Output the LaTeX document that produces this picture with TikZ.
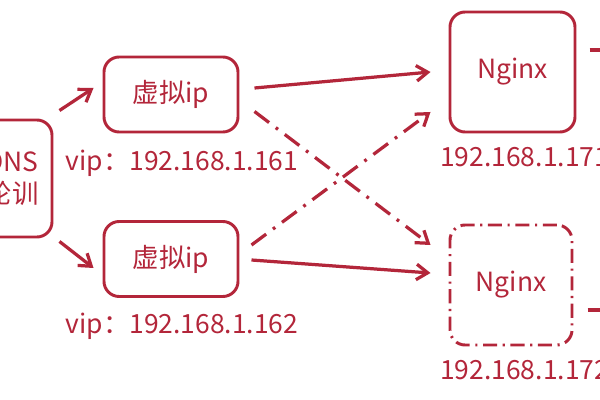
\documentclass[tikz,border=0pt]{standalone}
\usepackage{fontspec}
\setmainfont{Noto Sans CJK SC}
\usepackage{tikz}
\usetikzlibrary{positioning, arrows.meta, calc}
\definecolor{lbRed}{HTML}{B3263A}
\definecolor{lbWhite}{HTML}{FFFFFF}

\begin{document}
\begin{tikzpicture}[x=0.025cm, y=-0.025cm, font=\fontsize{18.8}{23}\selectfont, text=lbRed,
  box/.style={draw=lbRed, line width=2.1pt, rounded corners=0.38cm, align=center, inner sep=0pt},
  backup/.style={box, dash pattern=on 10pt off 4pt on 1.5pt off 4pt},
  link/.style={draw=lbRed, line width=2.3pt, -{Straight Barb[length=8pt, width=11pt]}},
  spare/.style={link, dash pattern=on 13pt off 6pt on 2pt off 6pt},
  addr/.style={inner sep=0pt}]
\useasboundingbox (0,0) rectangle (600,400);
\fill[lbWhite] (0,0) rectangle (600,400);
\clip (0,0) rectangle (600,400);
\node[box, minimum width=2.0cm, minimum height=2.925cm] (dns) at (12,178.5) {DNS\\轮训};
\node[box, minimum width=3.35cm, minimum height=1.875cm] (vipA) at (171,94.5) {虚拟ip};
\node[box, minimum width=3.35cm, minimum height=1.875cm] (vipB) at (171,259) {虚拟ip};
\node[box, minimum width=3.125cm, minimum height=3.0cm] (ngxA) at (512.5,72) {Nginx};
\node[backup, minimum width=3.05cm, minimum height=3.0cm] (ngxB) at (511,285) {Nginx};
\node[addr] (ipA) at (182,163) {vip：192.168.1.161};
\node[addr] (ipB) at (182,326) {vip：192.168.1.162};
\node[addr, anchor=west] (ipC) at (440,157) {192.168.1.171};
\node[addr, anchor=west] (ipD) at (440,370) {192.168.1.172};
\coordinate (outA) at (620,50); \coordinate (outB) at (620,310);
% dns to both vips
\draw[link] ([shift={(6,-8)}]dns.north east) -- ([shift={(-9,-6.5)}]vipA.west);
\draw[link] ([shift={(6,3)}]dns.south east) -- ([shift={(-9,9)}]vipB.west);
% vips to nginx, main and backup
\draw[link] ([shift={(15,-6.5)}]vipA.east) -- ([shift={(-18,0)}]ngxA.west);
\draw[spare] ([shift={(15,17)}]vipA.east) -- ([shift={(-18,-40)}]ngxB.west);
\draw[spare] ([shift={(12,-14)}]vipB.east) -- ([shift={(-18,40)}]ngxA.west);
\draw[link] ([shift={(12,1)}]vipB.east) -- ([shift={(-18,-12)}]ngxB.west);
% lines leaving on the right
\draw[link, -] ([xshift=0.33cm]ngxA.east |- outA) -- (outA);
\draw[spare, -] ([xshift=0.35cm]ngxB.east |- outB) -- (outB);
\end{tikzpicture}
\end{document}
